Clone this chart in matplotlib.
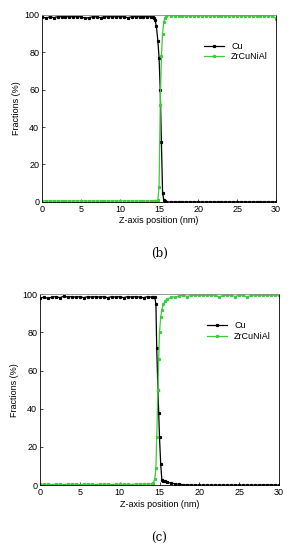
import matplotlib.pyplot as plt

plt.rcParams['font.family'] = ['Liberation Sans', 'DejaVu Sans']

# --- painel (b) ---
x_b = [0, 0.5, 1, 1.5, 2, 2.5, 3, 3.5, 4, 4.5, 5, 5.5, 6, 6.5, 7, 7.5, 8, 8.5, 9, 9.5,
       10, 10.5, 11, 11.5, 12, 12.5, 13, 13.5, 14,
       14.2, 14.35, 14.5, 14.65, 14.85, 15.0, 15.15, 15.3, 15.45, 15.6, 15.75, 15.95,
       16.5, 17, 17.5, 18, 18.5, 19, 19.5, 20, 20.5, 21, 21.5, 22, 22.5, 23, 23.5, 24,
       24.5, 25, 25.5, 26, 26.5, 27, 27.5, 28, 28.5, 29, 29.5, 30]
cu_b = [99, 98.2, 99, 98.5, 99, 99, 99, 99, 99, 99, 99, 98.2, 98.5, 99, 99, 98.5, 99, 99, 99, 99,
        99, 99, 98.5, 99, 99, 99, 99, 99, 99,
        99, 98.5, 97, 94, 86, 77, 60, 32, 5, 1, 0.2, 0,
        0, 0, 0, 0, 0, 0, 0, 0, 0, 0, 0, 0, 0, 0, 0, 0,
        0, 0, 0, 0, 0, 0, 0, 0, 0, 0, 0, 0]
zr_b = [0.5, 0.5, 0.5, 0.5, 0.5, 0.5, 0.5, 0.5, 0.5, 0.5, 0.5, 0.5, 0.5, 0.5, 0.5, 0.5, 0.5, 0.5, 0.5, 0.5,
        0.5, 0.5, 0.5, 0.5, 0.5, 0.5, 0.5, 0.5, 0.5,
        0.5, 0.5, 0.5, 0.5, 1, 8, 52, 78, 90, 96, 98.5, 99.5,
        99.5, 99.5, 99.5, 99.5, 99.5, 99.5, 99.5, 99.5, 99.5, 99.5, 99.5, 99.5, 99.5, 99.5, 99.5, 99.5,
        99.5, 99.5, 99.5, 99.5, 99.5, 99.5, 99.5, 99.5, 99.5, 99.5, 99.5, 98]

# --- painel (c) ---
x_c = [0, 0.5, 1, 1.5, 2, 2.5, 3, 3.5, 4, 4.5, 5, 5.5, 6, 6.5, 7, 7.5, 8, 8.5, 9, 9.5,
       10, 10.5, 11, 11.5, 12, 12.5, 13, 13.5, 14,
       14.2, 14.4, 14.55, 14.65, 14.8, 14.9, 15.0, 15.15, 15.3, 15.5, 15.7, 16.0, 16.5,
       17, 17.5, 18, 18.5, 19, 19.5, 20, 20.5, 21, 21.5, 22, 22.5, 23, 23.5, 24,
       24.5, 25, 25.5, 26, 26.5, 27, 27.5, 28, 28.5, 29, 29.5, 30]
cu_c = [98, 98.5, 97.8, 98.5, 98.8, 98.2, 99, 98.5, 98.8, 98.5, 98.8, 98.2, 98.8, 98.5, 98.8, 98.5, 98.8, 98.2, 98.8, 98.5,
        98.8, 98.2, 98.8, 98.5, 98.8, 98.5, 98.2, 98.8, 98.5,
        98.5, 98.5, 95, 72, 50, 38, 25, 11, 2.5, 2.2, 2, 1.5, 1,
        0.7, 0.4, 0.2, 0.1, 0, 0, 0, 0, 0, 0, 0, 0, 0, 0, 0,
        0, 0, 0, 0, 0, 0, 0, 0.2, 0, 0.2, 0, 0]
zr_c = [0.5, 0.4, 0.5, 0.3, 0.5, 0.4, 0.3, 0.5, 0.4, 0.5, 0.3, 0.4, 0.5, 0.4, 0.3, 0.5, 0.4, 0.5, 0.3, 0.4,
        0.5, 0.4, 0.5, 0.3, 0.6, 0.5, 0.6, 0.7, 0.8,
        1, 3, 9, 25, 50, 66, 80, 88, 92, 95, 96.5, 97.5, 98.5,
        98.5, 99, 99.5, 98.8, 99.5, 99.5, 99.5, 99.5, 99.5, 99.5, 99.5, 98.5, 99.5, 99.5, 99.5,
        98.8, 99.5, 99.5, 98.5, 99.5, 99.5, 99.5, 99.5, 99.5, 99.5, 99.5, 99.5]

verde = '#3ccc3c'
fs = 6.5


def desenhar(ax, x, cu, zr):
    ax.plot(x, cu, color='black', marker='s', markersize=1.3, linewidth=0.9, label='Cu')
    ax.plot(x, zr, color=verde, marker='s', markersize=1.3, linewidth=0.9, label='ZrCuNiAl')
    ax.set_xlim(0, 30)
    ax.set_ylim(0, 100)
    ax.set_xticks(range(0, 31, 5))
    ax.set_yticks(range(0, 101, 20))
    ax.tick_params(direction='in', labelsize=fs, length=2, width=0.5, pad=2)
    for s in ax.spines.values():
        s.set_linewidth(0.6)
    ax.spines['top'].set_color('#888888')
    ax.set_xlabel('Z-axis position (nm)', fontsize=fs, labelpad=2)
    ax.set_ylabel('Fractions (%)', fontsize=fs, labelpad=2)
    ax.legend(loc='upper right', bbox_to_anchor=(1.0, 0.9), frameon=False, fontsize=fs,
              handlelength=2.2, labelspacing=0.2)


fig = plt.figure(figsize=(2.9, 5.5), dpi=100)
ax1 = fig.add_axes([0.145, 0.633, 0.807, 0.34])
ax2 = fig.add_axes([0.138, 0.118, 0.824, 0.347])
desenhar(ax1, x_b, cu_b, zr_b)
desenhar(ax2, x_c, cu_c, zr_c)

fig.text(0.55, 1 - 253 / 550, '(b)', ha='center', va='center', fontsize=8.5, family='DejaVu Serif')
fig.text(0.55, 1 - 538 / 550, '(c)', ha='center', va='center', fontsize=8.5, family='DejaVu Serif')

fig.savefig('out.png', dpi=100)
